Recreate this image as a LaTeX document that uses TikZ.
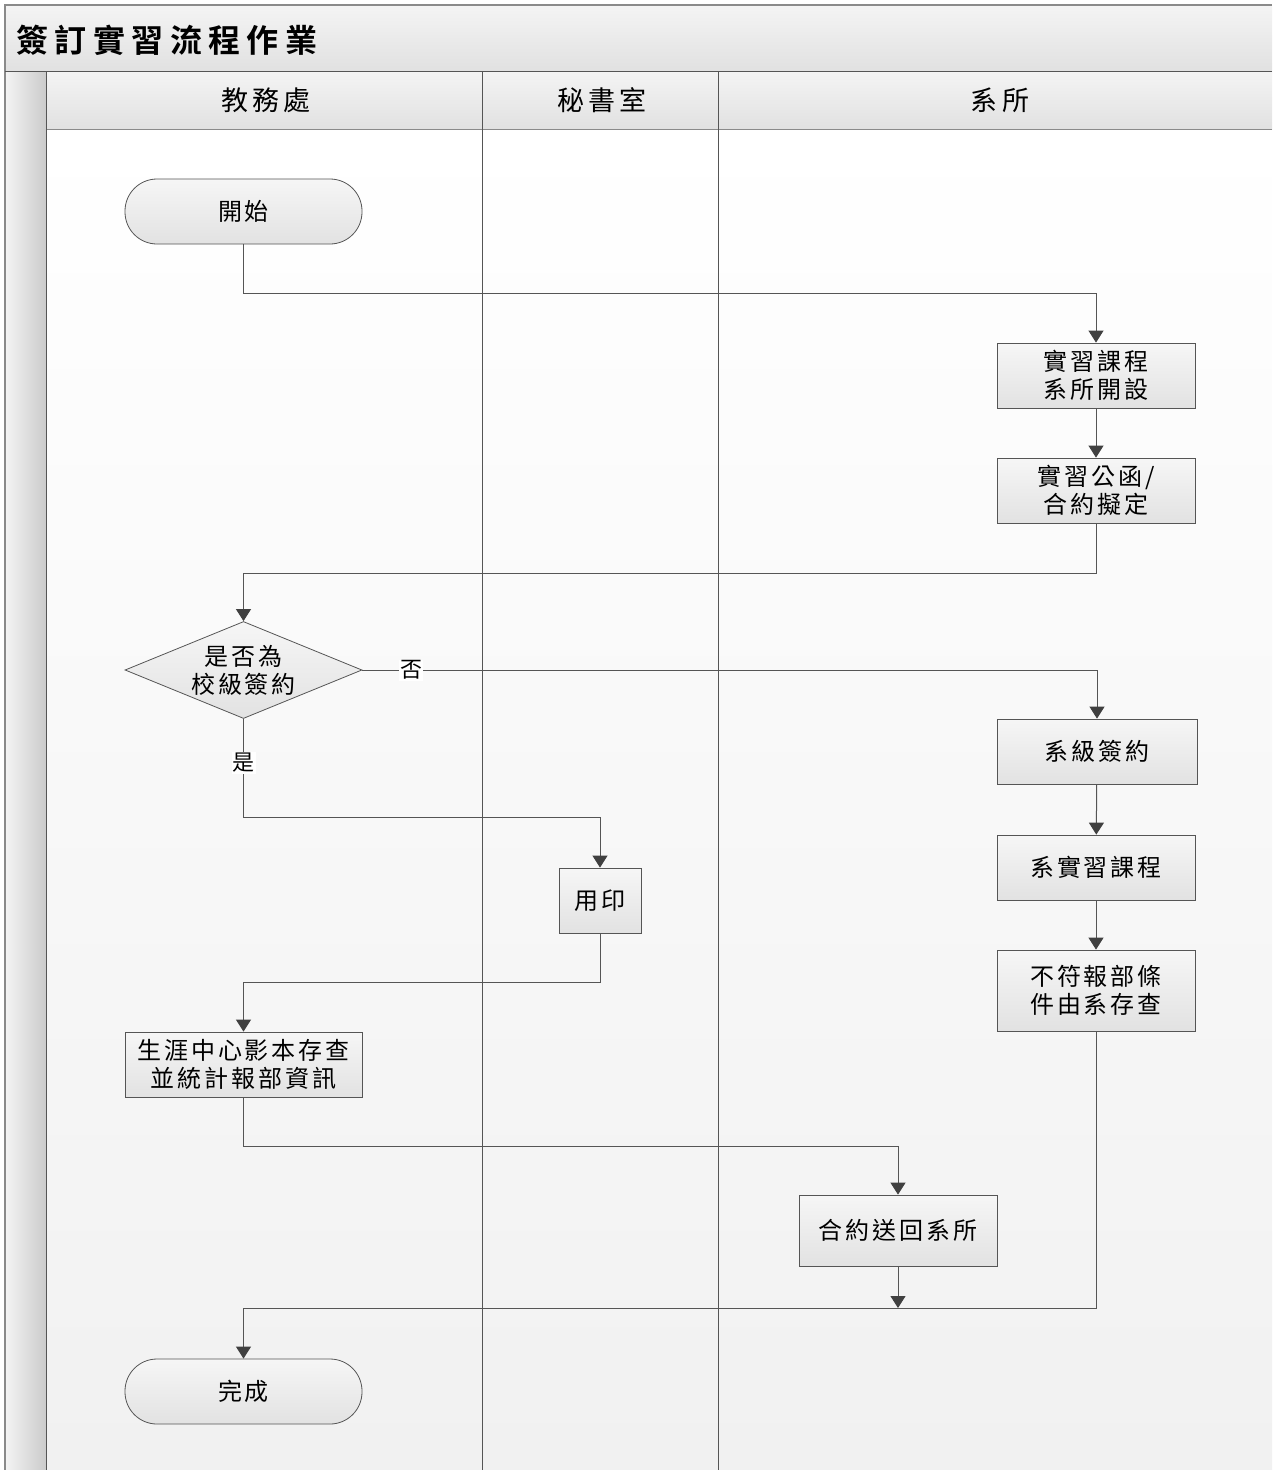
\documentclass[tikz,border=0pt]{standalone}
\usepackage{fontspec}
\setmainfont{Noto Sans CJK TC}
\newfontfamily\boxfont[LetterSpace=12]{Noto Sans CJK TC}
\newfontfamily\headfont[LetterSpace=16]{Noto Sans CJK TC}
\newfontfamily\titlefont[LetterSpace=20]{Noto Sans CJK TC Bold}
\usetikzlibrary{arrows.meta}
\usetikzlibrary{shapes.geometric}

\definecolor{linegray}{HTML}{555555}
\definecolor{tipgray}{HTML}{404040}
\definecolor{framegray}{HTML}{8A8A8A}
\definecolor{boxtop}{HTML}{F6F6F6}
\definecolor{boxbot}{HTML}{E2E2E2}
\definecolor{bandtop}{HTML}{F4F4F4}
\definecolor{bandbot}{HTML}{E1E1E1}
\definecolor{paper}{HTML}{F1F1F1}

\begin{document}
\begin{tikzpicture}[x=1pt,y=-1pt,
  proc/.style={draw=linegray,line width=0.8pt,top color=boxtop,bottom color=boxbot,
    minimum width=198pt,minimum height=65pt,inner sep=0pt,align=center,
    font=\boxfont\fontsize{24}{28}\selectfont},
  term/.style={proc,rounded corners=32pt,minimum width=237pt},
  decide/.style={proc,diamond,shape aspect=2.44,minimum width=237pt,minimum height=97pt},
  flow/.style={draw=linegray,line width=1pt,-{Triangle[length=12pt,width=15pt,color=tipgray]}},
  tag/.style={fill=white,inner sep=1pt,font=\boxfont\fontsize{22}{22}\selectfont}]
\useasboundingbox (0,0) rectangle (1272,1470);
% lanes
\shade[top color=white,bottom color=paper] (46,129) rectangle (1272,1470);
\shade[top color=bandtop,bottom color=bandbot] (5,5) rectangle (1272,71);
\shade[top color=bandtop,bottom color=bandbot] (46,71) rectangle (1272,129);
\shade[left color=bandtop,right color=bandbot!90!black] (5,71) rectangle (46,1470);
\draw [color=framegray,line width=1.5pt] (5,1470) -- (5,5) -- (1272,5);
\draw [color=linegray,line width=1pt] (5,71) -- (1272,71);
\draw [color=framegray,line width=1pt] (46,129) -- (1272,129);
\draw [color=linegray,line width=1pt] (46,71) -- (46,1470);
\draw [color=linegray,line width=1pt] (482,71) -- (482,1470);
\draw [color=linegray,line width=1pt] (718,71) -- (718,1470);
\node [anchor=west,font=\titlefont\fontsize{32}{32}\selectfont] (title) at (13,40) {簽訂實習流程作業};
\node [font=\headfont\fontsize{27}{27}\selectfont] (jiaowu) at (266,100) {教務處};
\node [font=\headfont\fontsize{27}{27}\selectfont] (mishu) at (602,100) {秘書室};
\node [font=\headfont\fontsize{27}{27}\selectfont] (xisuo) at (1000,100) {系所};
% steps
\node [term] (start) at (243.5,211.5) {開始};
\node [proc] (kaike) at (1096,375.5) {實習課程\\系所開設};
\node [proc] (niding) at (1096,490.5) {實習公函/\\合約擬定};
\node [decide] (ask) at (243.5,670) {是否為\\校級簽約};
\node [proc,minimum width=200pt] (xiji) at (1097,751.5) {系級簽約};
\node [proc] (xikc) at (1096,867.5) {系實習課程};
\node [proc,minimum height=81pt] (cuncha) at (1096,990.5) {不符報部條\\件由系存查};
\node [proc,minimum width=82pt] (yongyin) at (600,900.5) {用印};
\node [term,rounded corners=0pt] (shengya) at (243.5,1064.5) {生涯中心影本存查\\並統計報部資訊};
\node [proc,minimum height=71pt] (songhui) at (898,1230.5) {合約送回系所};
\node [term] (done) at (243.5,1391.5) {完成};
\coordinate (join) at (898,1308);
% connectors
\draw [flow] (start.south) -- ++(0,49) -| (kaike.north);
\draw [flow] (kaike) -- (niding);
\draw [flow] (niding.south) -- ++(0,50) -| (ask.north);
\draw [flow] (ask.east) -| (xiji.north);
\draw [flow] (ask.south) -- ++(0,99) -| (yongyin.north);
\draw [flow] (xiji) -- (xikc);
\draw [flow] (xikc) -- (cuncha);
\draw [flow] (yongyin.south) -- ++(0,49) -| (shengya.north);
\draw [flow] (shengya.south) -- ++(0,49) -| (songhui.north);
\draw [flow] (songhui) -- (join);
\draw [flow] (cuncha.south) |- (join) -| (done.north);
\node [tag] (no) at (411,670) {否};
\node [tag] (yes) at (243.5,763) {是};
\end{tikzpicture}
\end{document}
